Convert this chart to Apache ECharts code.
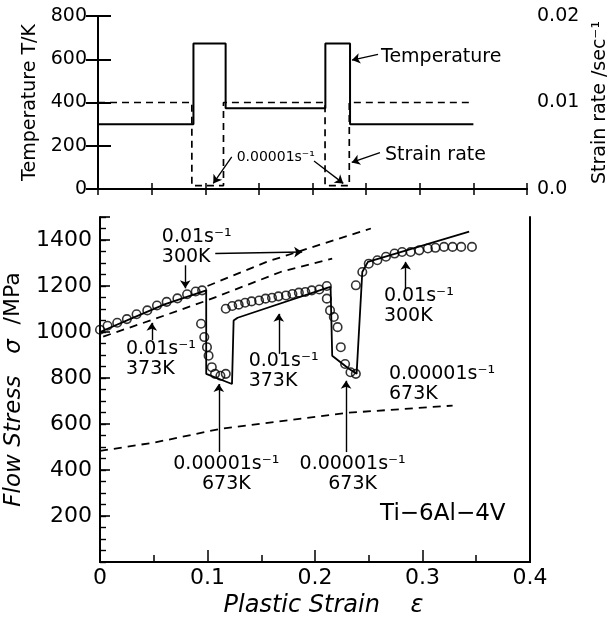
<!DOCTYPE html>
<html><head><meta charset="utf-8">
<script src="https://cdn.jsdelivr.net/npm/echarts@6/dist/echarts.min.js"></script>
<style>html,body{margin:0;padding:0;background:#fff}#c{width:609px;height:621px}</style>
</head><body><div id="c"></div>
<script>
// ---------- top panel data ----------
const tempStrain = [0, 0.089, 0.089, 0.119, 0.119, 0.212, 0.212, 0.235, 0.235, 0.350];
const tempK      = [300, 300, 673, 673, 373, 373, 673, 673, 300, 300];
const rateStrain = [0, 0.0875, 0.0875, 0.117, 0.117, 0.2117, 0.2117, 0.2343, 0.2343, 0.349];
const rateVal    = [0.01, 0.01, 0.0004, 0.0004, 0.01, 0.01, 0.0004, 0.0004, 0.01, 0.01];

// ---------- bottom panel data ----------
const expStrain = [0.000,0.007,0.016,0.025,0.034,0.044,0.053,0.062,0.072,0.081,0.089,0.095,
  0.094,0.097,0.0995,0.101,0.104,0.107,0.112,0.117,
  0.117,0.123,0.129,0.135,0.141,0.148,0.154,0.160,0.166,0.173,0.179,0.185,0.191,0.197,0.204,0.211,
  0.211,0.214,0.2175,0.221,0.224,0.228,0.233,0.238,
  0.238,0.244,0.250,0.258,0.266,0.274,0.281,0.289,0.297,0.305,0.312,0.320,0.328,0.336,0.346];
const expStress = [1010,1027,1040,1056,1077,1094,1115,1131,1146,1164,1176,1181,
  1036,978,934,897,847,818,810,818,
  1101,1113,1119,1127,1133,1137,1145,1149,1155,1159,1165,1171,1174,1181,1185,1200,
  1145,1094,1065,1021,934,861,825,818,
  1203,1261,1297,1312,1327,1341,1348,1348,1355,1363,1366,1370,1370,1370,1370];
const calcStrain = [0.000,0.030,0.060,0.0988,0.0988,0.1228,0.1243,0.1243,0.1280,0.2113,0.2145,0.2160,0.2315,0.2387,0.2440,0.2492,0.3434];
const calcStress = [1000,1060,1120,1181,818,774,774,1050,1062,1192,1196,897,840,818,1261,1305,1436];
const d300Strain = [0.100,0.155,0.2175,0.252];
const d300Stress = [1200,1305,1399,1450];
const d373Strain = [0.003,0.048,0.0995,0.168,0.216];
const d373Stress = [980,1052,1137,1261,1319];
const d673Strain = [0,0.0513,0.111,0.2284,0.328];
const d673Stress = [483,520,578,648,680];

// ---------- annotations (data units) ----------
const topArrows = [[0.1247,149,0.1075,26],[0.2014,129,0.2287,26],[0.2611,623,0.2368,596],[0.2629,168,0.2366,123]];
const topTexts = [['0.00001s⁻¹',0.1293,148,14],['Temperature',0.2639,609,19],['Strain rate',0.2676,157,19]];
const botArrows = [[0.1072,1341,0.1881,1348],[0.0793,1290,0.0793,1190],[0.0482,965,0.0482,1040],
  [0.1663,905,0.1663,1079],[0.2844,1188,0.2844,1305],[0.1105,478,0.1105,774],[0.2289,478,0.2289,788]];
const botTexts = [['0.01s⁻¹\n300K',0.0575,1371,'left'],['0.01s⁻¹\n373K',0.0242,882,'left'],
  ['0.01s⁻¹\n373K',0.1383,829,'left'],['0.01s⁻¹\n300K',0.2641,1112,'left'],
  ['0.00001s⁻¹\n673K',0.2688,774,'left'],['0.00001s⁻¹\n673K',0.1175,382,'center'],
  ['0.00001s⁻¹\n673K',0.2350,382,'center']];
const alloyText = ['Ti−6Al−4V',0.3189,207];

const F = 'DejaVu Sans';
const zip = (a,b) => a.map((v,i)=>[v,b[i]]);
const near = (a,b) => Math.abs(a-b) < 1e-9;
const axLine = {show:true, lineStyle:{color:'#000', width:2}};
const arrowsToMark = arr => arr.map(a => [{coord:[a[0],a[1]]},{coord:[a[2],a[3]]}]);

const chart = echarts.init(document.getElementById('c'), null, {renderer:'canvas'});
chart.setOption({
  backgroundColor:'#fff',
  animation:false,
  grid:[
    {left:98, top:16, width:429, height:173, outerBoundsMode:'none'},
    {left:100, top:217, width:430, height:345, outerBoundsMode:'none'}
  ],
  xAxis:[
    {gridIndex:0, type:'value', position:'bottom', min:0, max:0.4, interval:0.05,
     axisLine:axLine, axisTick:{inside:true, length:6, lineStyle:{color:'#000', width:1.5}},
     axisLabel:{show:false}, splitLine:{show:false}},
    {gridIndex:0, type:'value', position:'top', min:0, max:0.4, interval:0.05,
     axisLine:axLine, axisTick:{inside:true, length:6, lineStyle:{color:'#000', width:1.5}},
     axisLabel:{show:false}, splitLine:{show:false}},
    {gridIndex:1, type:'value', position:'bottom', min:0, max:0.4, interval:0.1,
     axisLine:axLine, axisTick:{inside:true, length:12, lineStyle:{color:'#000', width:1.5}},
     minorTick:{show:true, splitNumber:2, length:7, lineStyle:{color:'#000', width:1.5}},
     axisLabel:{fontFamily:F, fontSize:22, color:'#000', margin:5, formatter:v=> near(v,0)?'0':v.toFixed(1)},
     splitLine:{show:false}, minorSplitLine:{show:false},
     name:'Plastic Strain    ε', nameLocation:'middle', nameGap:32,
     nameTextStyle:{fontFamily:F, fontSize:24, fontStyle:'italic', color:'#000', padding:[0,0,0,17]}},
    {gridIndex:1, type:'value', position:'top', min:0, max:0.4,
     axisLine:axLine, axisTick:{show:false}, axisLabel:{show:false}, splitLine:{show:false}}
  ],
  yAxis:[
    {gridIndex:0, type:'value', position:'left', min:0, max:800, interval:200,
     axisLine:axLine, axisTick:{inside:true, length:13, lineStyle:{color:'#000', width:2}},
     axisLabel:{fontFamily:F, fontSize:19, color:'#000', margin:11}, splitLine:{show:false},
     name:'Temperature T/K', nameLocation:'middle', nameGap:55,
     nameTextStyle:{fontFamily:F, fontSize:19, color:'#000'}},
    {gridIndex:0, type:'value', position:'right', min:0, max:0.02, interval:0.005,
     axisLine:axLine, axisTick:{inside:true, length:12, lineStyle:{color:'#000', width:2}},
     axisLabel:{fontFamily:F, fontSize:19, color:'#000', margin:10,
       formatter:v=> near(v,0)?'0.0':near(v,0.01)?'0.01':near(v,0.02)?'0.02':''},
     splitLine:{show:false},
     name:'Strain rate /sec⁻¹', nameLocation:'middle', nameGap:60,
     nameTextStyle:{fontFamily:F, fontSize:19, color:'#000'}},
    {gridIndex:1, type:'value', position:'left', min:0, max:1500, interval:200,
     axisLine:axLine, axisTick:{inside:true, length:10, lineStyle:{color:'#000', width:1.6}},
     axisLabel:{fontFamily:F, fontSize:22, color:'#000', margin:8,
       formatter:v=> (v===0||v===1500)?'':String(v)},
     splitLine:{show:false},
     name:'{i|Flow Stress   σ}  {n|/MPa}', nameLocation:'middle', nameGap:62,
     nameTextStyle:{fontFamily:F, fontSize:23, color:'#000',
       rich:{i:{fontFamily:F, fontSize:23, fontStyle:'italic', color:'#000'}, n:{fontFamily:F, fontSize:22, color:'#000'}}}},
    {gridIndex:1, type:'value', position:'left', min:0, max:1500, interval:50,
     axisLine:{show:false}, axisTick:{inside:true, length:6, lineStyle:{color:'#000', width:1.4}},
     axisLabel:{show:false}, splitLine:{show:false}},
    {gridIndex:1, type:'value', position:'right', min:0, max:1500,
     axisLine:axLine, axisTick:{show:false}, axisLabel:{show:false}, splitLine:{show:false}}
  ],
  series:[
    {type:'line', xAxisIndex:0, yAxisIndex:0, data:zip(tempStrain,tempK), symbol:'none',
     lineStyle:{color:'#000', width:2}, silent:true,
     markLine:{silent:true, symbol:['none','arrow'], symbolSize:8, label:{show:false},
       lineStyle:{color:'#000', width:1.3, type:'solid'}, data:arrowsToMark(topArrows)},
     markPoint:{silent:true, symbol:'circle', symbolSize:0,
       data:topTexts.map(t=>({coord:[t[1],t[2]], label:{show:true, position:'inside', formatter:t[0],
         fontFamily:F, fontSize:t[3], color:'#000', align:'left', verticalAlign:'middle'}}))}},
    {type:'line', xAxisIndex:0, yAxisIndex:1, data:zip(rateStrain,rateVal), symbol:'none',
     lineStyle:{color:'#000', width:1.7, type:[7,5]}, silent:true},
    {type:'line', xAxisIndex:2, yAxisIndex:2, data:zip(calcStrain,calcStress), symbol:'none',
     lineStyle:{color:'#000', width:1.8}, silent:true,
     markLine:{silent:true, symbol:['none','arrow'], symbolSize:8, label:{show:false},
       lineStyle:{color:'#000', width:1.4, type:'solid'}, data:arrowsToMark(botArrows)},
     markPoint:{silent:true, symbol:'circle', symbolSize:0,
       data:botTexts.map(t=>({coord:[t[1],t[2]], label:{show:true, position:'inside', formatter:t[0],
         fontFamily:F, fontSize:19, lineHeight:20, color:'#000', align:t[3], verticalAlign:'middle'}}))
         .concat([{coord:[alloyText[1],alloyText[2]], label:{show:true, position:'inside', formatter:alloyText[0],
         fontFamily:F, fontSize:23, color:'#000', align:'center', verticalAlign:'middle'}}])}},
    {type:'line', xAxisIndex:2, yAxisIndex:2, data:zip(d300Strain,d300Stress), symbol:'none',
     lineStyle:{color:'#000', width:1.8, type:[8,6]}, silent:true},
    {type:'line', xAxisIndex:2, yAxisIndex:2, data:zip(d373Strain,d373Stress), symbol:'none',
     lineStyle:{color:'#000', width:1.8, type:[8,6]}, silent:true},
    {type:'line', xAxisIndex:2, yAxisIndex:2, data:zip(d673Strain,d673Stress), symbol:'none',
     lineStyle:{color:'#000', width:1.8, type:[8,6]}, silent:true},
    {type:'scatter', xAxisIndex:2, yAxisIndex:2, data:zip(expStrain,expStress), symbol:'circle', symbolSize:8.5,
     itemStyle:{color:'rgba(255,255,255,0)', borderColor:'#000', borderWidth:1.6}, silent:true, z:5}
  ]
});
</script></body></html>
